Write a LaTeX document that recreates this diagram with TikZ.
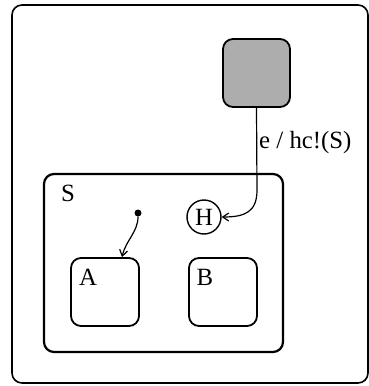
\documentclass[tikz,border=0pt]{standalone}
\usepackage{fontspec}
\setmainfont{Liberation Serif}
\usetikzlibrary{arrows.meta}
\begin{document}
\begin{tikzpicture}[x=1pt,y=-1pt,
  statebox/.style={draw,rounded corners=10pt,line width=1.8pt,inner sep=0pt},
  conn/.style={line width=1.2pt,-{Straight Barb[length=6pt,width=8pt,line width=1.2pt]}},
  txt/.style={font=\fontsize{24.8}{28}\selectfont,inner sep=0pt}]
\useasboundingbox (0,0) rectangle (369,386);
\node[statebox,line width=1.6pt,minimum width=356pt,minimum height=378pt] (outer) at (190,194) {};
\node[statebox,line width=2.2pt,minimum width=239pt,minimum height=178pt] (S) at (163.5,263) {};
\node[statebox,minimum width=68pt,minimum height=68pt] (A) at (105,292) {};
\node[statebox,minimum width=68pt,minimum height=68pt] (B) at (223,292) {};
\node[statebox,fill=black!32,minimum width=67pt,minimum height=68pt] (shade) at (256.5,73) {};
\node[draw,circle,line width=1.4pt,minimum size=34pt,inner sep=0pt,txt] (H) at (204,217) {H};
\node[txt] (Slbl) at (68,193) {S};
\node[txt] (Albl) at (88,277) {A};
\node[txt] (Blbl) at (205,277) {B};
\node[txt,anchor=west] (elbl) at (259,143) {e / hc!(S)};
\node[circle,fill=black,inner sep=0pt,minimum size=7pt] (init) at (138,213) {};
\coordinate (bend) at (257,190);
\draw[conn] (shade.south) -- (bend) .. controls (257,212) and (245,217) .. (H.east);
\draw[conn] (init) .. controls (138,232) and (126,240) .. (A.north -| 122,0);
\end{tikzpicture}
\end{document}
